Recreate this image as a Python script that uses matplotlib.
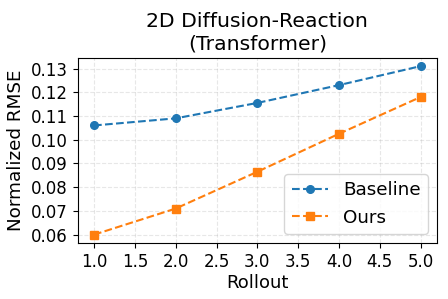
import matplotlib
matplotlib.use("Agg")
import matplotlib.pyplot as plt
from matplotlib.ticker import MultipleLocator

rollout = [1.0, 2.0, 3.0, 4.0, 5.0]
baseline = [0.106, 0.109, 0.1155, 0.123, 0.131]
ours = [0.060, 0.071, 0.0865, 0.1025, 0.118]

fig, ax = plt.subplots(figsize=(4.48, 2.99), dpi=100)
ax.plot(rollout, baseline, '--o', color='#1f77b4', markersize=5.5, label='Baseline')
ax.plot(rollout, ours, '--s', color='#ff7f0e', markersize=5.5, label='Ours')
ax.set_title('2D Diffusion-Reaction\n(Transformer)', fontsize=14.7)
ax.set_xlabel('Rollout', fontsize=13, labelpad=2)
ax.set_ylabel('Normalized RMSE', fontsize=13.2)
ax.tick_params(labelsize=12)
ax.set_xticks([1.0, 1.5, 2.0, 2.5, 3.0, 3.5, 4.0, 4.5, 5.0])
ax.yaxis.set_major_locator(MultipleLocator(0.01))
ax.grid(True, linestyle='--', alpha=0.3)
ax.legend(fontsize=13.2, loc='lower right')
fig.subplots_adjust(left=0.1734, right=0.9754, top=0.807, bottom=0.187)
fig.savefig('out.png', dpi=100)
